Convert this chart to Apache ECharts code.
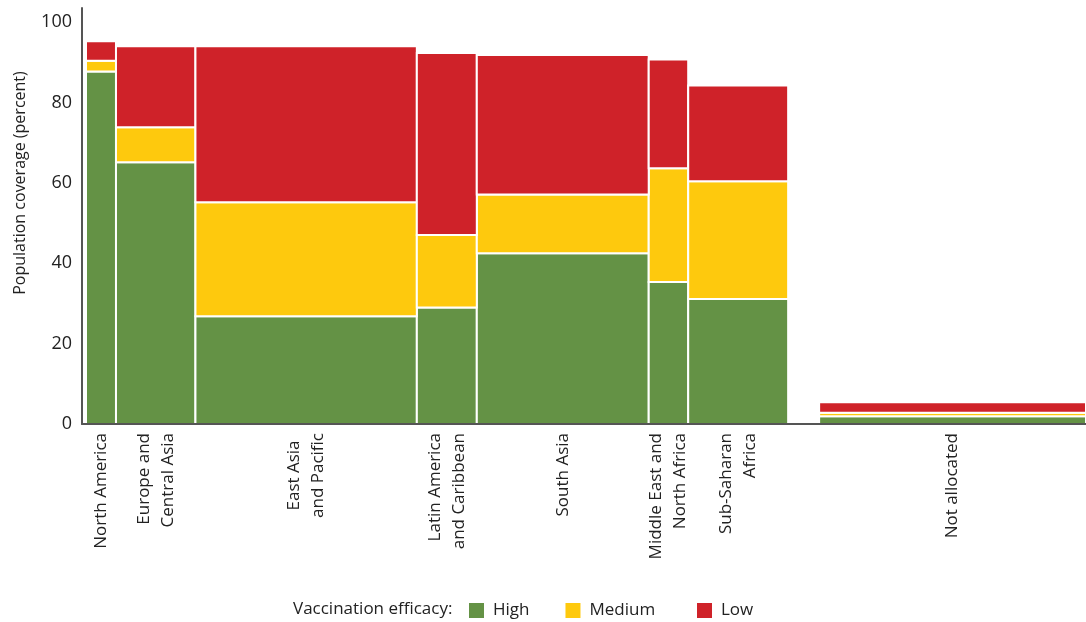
<!DOCTYPE html>
<html>
<head>
<meta charset="utf-8">
<script src="https://cdn.jsdelivr.net/npm/echarts@6/dist/echarts.min.js"></script>
<style>
  html, body { margin: 0; padding: 0; background: #fff; }
  #chart { width: 1086px; height: 622px; }
</style>
</head>
<body>
<div id="chart"></div>
<script>
// ---- data ----
const regions = ['North America', 'Europe and\nCentral Asia', 'East Asia\nand Pacific',
  'Latin America\nand Caribbean', 'South Asia', 'Middle East and\nNorth Africa',
  'Sub-Saharan\nAfrica', 'Not allocated'];
const widths = [30, 79.5, 221.5, 60, 172, 39.5, 100, 267];   // column widths (relative)
const high   = [87.7, 65.1, 26.8, 29.0, 42.5, 35.3, 31.1, 1.9];
const medium = [2.7, 8.7, 28.4, 18.0, 14.6, 28.3, 29.3, 0.9];
const low    = [4.8, 20.2, 38.8, 45.3, 34.7, 27.1, 23.8, 2.6];
const yTicks = [0, 20, 40, 60, 80, 100];
const levelNames = ['High', 'Medium', 'Low'];

// ---- layout ----
const leadGap = 4;
const gapBefore = {7: 31};
const colors = ['#649245', '#FEC90D', '#CF2229'];
const FONT = '"Open Sans", "Noto Sans", sans-serif';

const x0 = [], x1 = [];
let cur = leadGap;
widths.forEach((w, i) => {
  if (gapBefore[i]) cur += gapBefore[i];
  x0.push(cur); cur += w; x1.push(cur);
});
const xMax = cur;

const levels = [high, medium, low];
const seriesData = levels.map((vals, li) => vals.map((v, i) => {
  let base = 0;
  for (let k = 0; k < li; k++) base += levels[k][i];
  return [x0[i], x1[i], base, base + v];
}));

function renderRect(params, api) {
  const p0 = api.coord([api.value(0), api.value(2)]);
  const p1 = api.coord([api.value(1), api.value(3)]);
  return {
    type: 'rect',
    shape: { x: p0[0], y: p1[1], width: p1[0] - p0[0], height: p0[1] - p1[1] },
    style: { fill: api.visual('color'), stroke: '#fff', lineWidth: 2 }
  };
}

const measureCtx = document.createElement('canvas').getContext('2d');
measureCtx.font = '17px ' + FONT;

function renderLabel(params, api) {
  const i = api.value(1);
  const text = regions[i];
  const p = api.coord([api.value(0), 0]);
  let align = 'right', y = p[1] + 9;
  if (i === 2) {
    const w = Math.max(...text.split('\n').map(t => measureCtx.measureText(t).width));
    align = 'center';
    y = p[1] + 9 + w / 2;
  }
  return {
    type: 'text', x: p[0], y: y, rotation: Math.PI / 2,
    style: { text: text, font: '17px ' + FONT, fill: '#222', align: align,
             verticalAlign: 'middle', lineHeight: 24 }
  };
}

const chart = echarts.init(document.getElementById('chart'));
const series = levelNames.map((name, li) => ({
  name: name, type: 'custom', renderItem: renderRect,
  itemStyle: { color: colors[li] },
  encode: { x: [0, 1], y: [2, 3] },
  data: seriesData[li], silent: true, z: 2
}));
series.push({
  name: 'labels', type: 'custom', renderItem: renderLabel,
  encode: { x: 0, y: 1 },
  data: regions.map((r, i) => [(x0[i] + x1[i]) / 2, i]), silent: true, clip: false
});

const legendBase = {
  top: 602, padding: 0, icon: 'rect', itemWidth: 15, itemHeight: 15, itemGap: 36,
  textStyle: { fontFamily: FONT, fontSize: 17, color: '#222', padding: [0, 0, 0, 4] },
  selectedMode: false
};

chart.setOption({
  animation: false,
  grid: { left: 82, right: 0, top: 8, bottom: 198 },
  xAxis: {
    type: 'value', min: 0, max: xMax, z: 5,
    axisLine: { show: true, lineStyle: { color: '#555', width: 2 } },
    axisTick: { show: false }, axisLabel: { show: false }, splitLine: { show: false }
  },
  yAxis: {
    type: 'value', min: 0, max: 103.5, interval: 20, z: 5,
    axisLine: { show: true, lineStyle: { color: '#555', width: 2 } },
    axisTick: { show: false }, splitLine: { show: false },
    axisLabel: {
      fontFamily: FONT, fontSize: 18, color: '#222', margin: 10,
      formatter: v => yTicks.indexOf(v) >= 0 ? String(v) : ''
    }
  },
  legend: [
    Object.assign({}, legendBase, { data: ['High', 'Medium'], left: 469 }),
    Object.assign({}, legendBase, { data: ['Low'], left: 697 })
  ],
  graphic: [
    { type: 'text', x: 20, y: 183, rotation: Math.PI / 2,
      style: { text: 'Population coverage (percent)', font: '16px ' + FONT, fill: '#222',
               align: 'center', verticalAlign: 'middle' } },
    { type: 'text', x: 293, y: 609.5,
      style: { text: 'Vaccination efficacy:', font: '17px ' + FONT, fill: '#222',
               align: 'left', verticalAlign: 'middle' } }
  ],
  series: series
});
</script>
</body>
</html>
